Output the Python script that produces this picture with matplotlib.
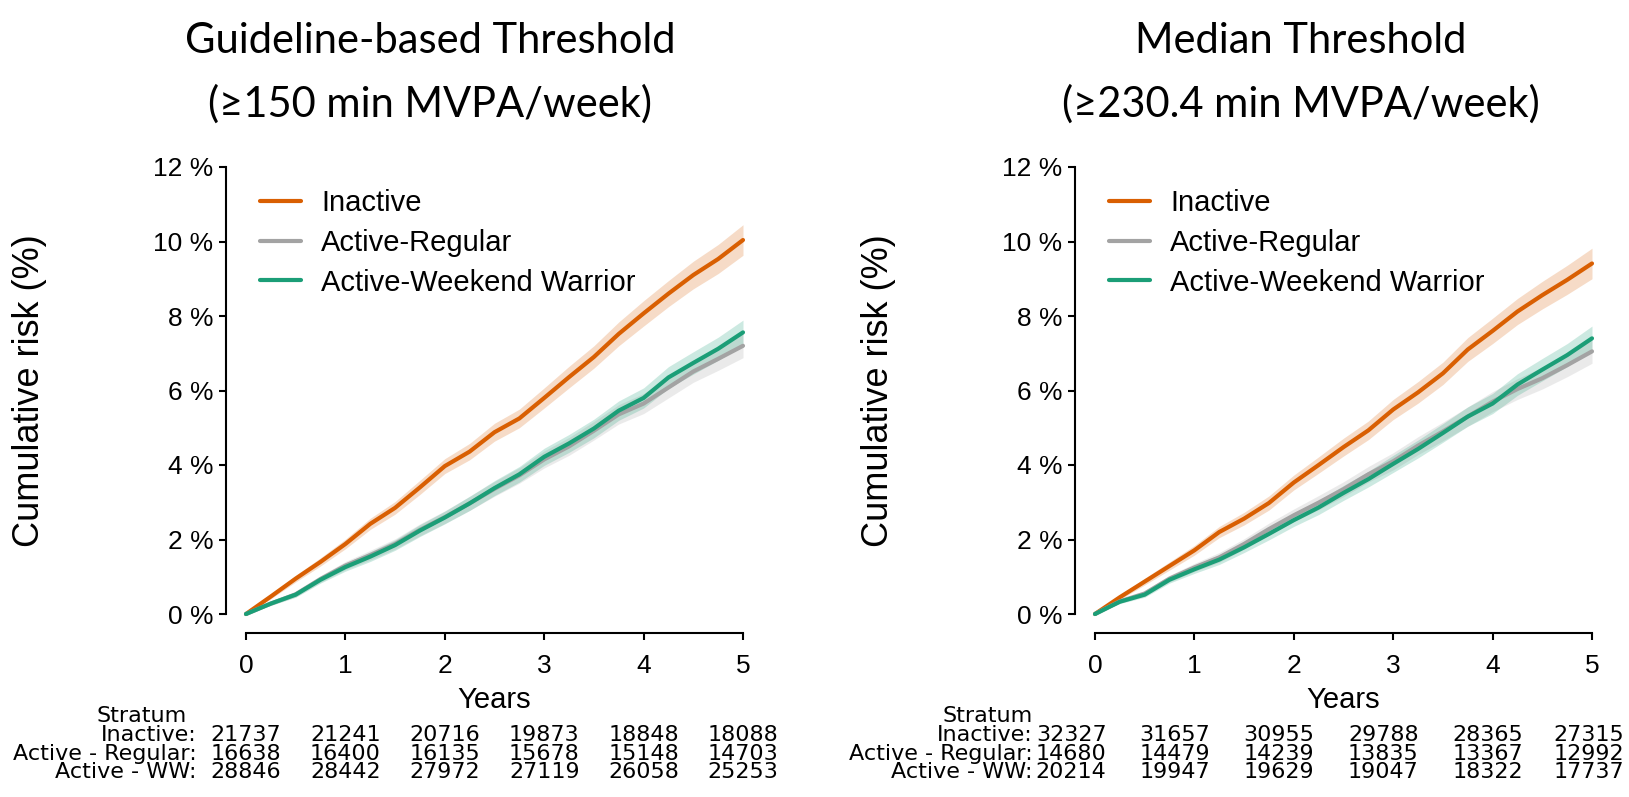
import numpy as np
import matplotlib
matplotlib.use("Agg")
import matplotlib.pyplot as plt
import matplotlib.transforms as mtransforms
from matplotlib.ticker import FixedLocator, StrMethodFormatter

plt.rcParams['font.family'] = ['Liberation Sans', 'DejaVu Sans']

# follow-up grid (years) shared by every curve
years = [0, 0.25, 0.5, 0.75, 1.0, 1.25, 1.5, 1.75, 2.0, 2.25, 2.5,
         2.75, 3.0, 3.25, 3.5, 3.75, 4.0, 4.25, 4.5, 4.75, 5.0]

# guideline-based threshold (>=150 min)
guide_inactive = [0, 0.47, 0.95, 1.40, 1.88, 2.42, 2.85, 3.40, 3.97, 4.36, 4.88,
                  5.25, 5.80, 6.36, 6.90, 7.52, 8.07, 8.60, 9.10, 9.53, 10.04]
guide_regular = [0, 0.28, 0.53, 0.94, 1.30, 1.58, 1.88, 2.26, 2.60, 2.97, 3.36,
                 3.72, 4.15, 4.50, 4.92, 5.36, 5.65, 6.08, 6.51, 6.85, 7.20]
guide_ww = [0, 0.28, 0.52, 0.92, 1.26, 1.54, 1.85, 2.24, 2.59, 2.97, 3.38,
            3.75, 4.22, 4.58, 4.98, 5.46, 5.80, 6.35, 6.74, 7.12, 7.56]

# median threshold (>=230.4 min)
median_inactive = [0, 0.45, 0.87, 1.29, 1.71, 2.20, 2.56, 2.98, 3.53, 4.00, 4.48,
                   4.93, 5.49, 5.95, 6.46, 7.10, 7.60, 8.12, 8.56, 8.97, 9.41]
median_regular = [0, 0.34, 0.55, 0.95, 1.25, 1.52, 1.88, 2.28, 2.65, 2.99, 3.35,
                  3.75, 4.10, 4.52, 4.90, 5.30, 5.70, 6.04, 6.33, 6.68, 7.05]
median_ww = [0, 0.33, 0.52, 0.92, 1.20, 1.46, 1.79, 2.15, 2.52, 2.86, 3.25,
             3.62, 4.03, 4.43, 4.86, 5.30, 5.65, 6.16, 6.56, 6.95, 7.40]

# half-width of the 95% confidence bands
ci_inactive = [0, 0.06, 0.09, 0.11, 0.13, 0.15, 0.17, 0.19, 0.20, 0.22, 0.24,
               0.25, 0.27, 0.29, 0.30, 0.32, 0.34, 0.35, 0.37, 0.39, 0.41]
ci_regular = [0, 0.05, 0.07, 0.09, 0.11, 0.13, 0.14, 0.16, 0.17, 0.19, 0.20,
              0.21, 0.23, 0.24, 0.25, 0.26, 0.27, 0.28, 0.29, 0.31, 0.32]
ci_ww = [0, 0.05, 0.07, 0.09, 0.11, 0.13, 0.14, 0.16, 0.17, 0.19, 0.20,
         0.21, 0.23, 0.24, 0.25, 0.26, 0.27, 0.29, 0.30, 0.31, 0.33]

# numbers at risk at years 0..5
risk_times = [0, 1, 2, 3, 4, 5]
guide_risk_inactive = [21737, 21241, 20716, 19873, 18848, 18088]
guide_risk_regular = [16638, 16400, 16135, 15678, 15148, 14703]
guide_risk_ww = [28846, 28442, 27972, 27119, 26058, 25253]
median_risk_inactive = [32327, 31657, 30955, 29788, 28365, 27315]
median_risk_regular = [14680, 14479, 14239, 13835, 13367, 12992]
median_risk_ww = [20214, 19947, 19629, 19047, 18322, 17737]

group_names = ['Inactive', 'Active-Regular', 'Active-Weekend Warrior']
row_names = ['Inactive:', 'Active - Regular:', 'Active - WW:']
colors = ['#D95F02', '#A3A3A3', '#1B9E77']

W, H = 1629, 797
PX = 0.72  # points per pixel at dpi 100
fig = plt.figure(figsize=(W / 100, H / 100), dpi=100)


def km_panel(left_px, curves, cis, risk_rows, title, title_x,
             col_x, label_x, stratum_x):
    ax = fig.add_axes([left_px / W, 1 - 614 / H, 497 / W, 447 / H])
    t = np.array(years)
    # bands first, lines on top
    for vals, ci, col in zip(curves, cis, colors):
        v = np.array(vals)
        c = np.array(ci)
        ax.fill_between(t, v - c, v + c, color=col, alpha=0.22, lw=0, clip_on=False)
    for vals, col, name in zip(curves, colors, group_names):
        ax.plot(t, vals, color=col, lw=3.0, label=name, clip_on=False,
                solid_capstyle='round')

    ax.set_xlim(0, 5)
    ax.set_ylim(0, 12)
    for s in ['top', 'right']:
        ax.spines[s].set_visible(False)
    ax.spines['left'].set_position(('outward', 20 * PX))
    ax.spines['bottom'].set_position(('outward', 19 * PX))
    ax.spines['left'].set_bounds(0, 12)
    ax.spines['bottom'].set_bounds(0, 5)
    for s in ['left', 'bottom']:
        ax.spines[s].set_linewidth(1.5)
    ax.xaxis.set_major_locator(FixedLocator(risk_times))
    ax.yaxis.set_major_locator(FixedLocator([0, 2, 4, 6, 8, 10, 12]))
    ax.yaxis.set_major_formatter(StrMethodFormatter('{x:.0f} %'))
    ax.tick_params(axis='both', length=5, width=1.5, labelsize=19)
    ax.tick_params(axis='y', pad=4)
    ax.tick_params(axis='x', pad=10)
    ax.set_xlabel('Years', fontsize=21, labelpad=6)
    ax.set_ylabel('Cumulative risk (%)', fontsize=26)
    ax.yaxis.set_label_coords(-0.40, 0.5)

    leg = ax.legend(loc='upper left', bbox_to_anchor=(0.028, 0.95), frameon=False,
                    fontsize=21, handlelength=1.4, handletextpad=0.7,
                    labelspacing=0.4, borderpad=0, borderaxespad=0)
    for line in leg.get_lines():
        line.set_linewidth(3.0)

    # risk table under the axis
    tr = mtransforms.blended_transform_factory(ax.transData, fig.transFigure)
    tab_font = dict(fontsize=16, family=['DejaVu Sans'])
    ax.text(stratum_x, 1 - 716.5 / H, 'Stratum', transform=tr, ha='right',
            va='center', **tab_font)
    for i, (row, name) in enumerate(zip(risk_rows, row_names)):
        y = 1 - (735 + 18.6 * i) / H
        ax.text(label_x, y, name, transform=tr, ha='right', va='center', **tab_font)
        for xc, n in zip(col_x, row):
            ax.text(xc, y, str(n), transform=tr, ha='center', va='center', **tab_font)

    fig.text(title_x / W, 1 - 73 / H, title, ha='center', va='center', fontsize=30,
             family=['Lato', 'DejaVu Sans'], linespacing=1.73)
    return ax


km_panel(246, [guide_inactive, guide_regular, guide_ww],
         [ci_inactive, ci_regular, ci_ww],
         [guide_risk_inactive, guide_risk_regular, guide_risk_ww],
         'Guideline-based Threshold\n(≥150 min MVPA/week)', 430,
         [0, 1, 2, 3, 4, 5], -0.50, -0.60)
km_panel(1095, [median_inactive, median_regular, median_ww],
         [ci_inactive, ci_regular, ci_ww],
         [median_risk_inactive, median_risk_regular, median_risk_ww],
         'Median Threshold\n(≥230.4 min MVPA/week)', 1301,
         [-0.24, 0.8, 1.85, 2.9, 3.95, 4.97], -0.63, -0.63)

fig.savefig('out.png', dpi=100)
